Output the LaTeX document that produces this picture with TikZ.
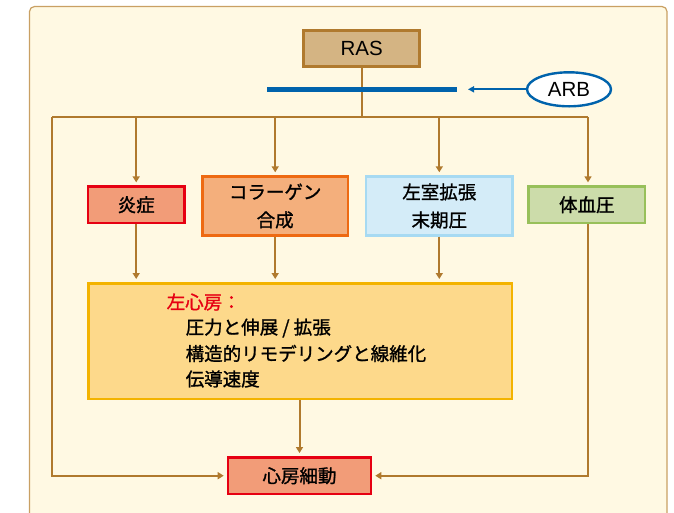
\documentclass[tikz,border=0pt]{standalone}
\usepackage{fontspec}
\setmainfont{Liberation Sans}
\newfontfamily\jp[FakeBold=1.2]{Noto Sans CJK JP}
\usetikzlibrary{arrows.meta,shapes.geometric}
\definecolor{bgfill}{HTML}{FFF9E3}
\definecolor{bgline}{HTML}{C9A063}
\definecolor{conn}{HTML}{B07A2E}
\definecolor{rasfill}{HTML}{D4B483}
\definecolor{redline}{HTML}{E60012}
\definecolor{salmon}{HTML}{F29C78}
\definecolor{orfill}{HTML}{F4AF7C}
\definecolor{orline}{HTML}{EE6A12}
\definecolor{blfill}{HTML}{D4ECF8}
\definecolor{blline}{HTML}{A7DAF2}
\definecolor{grfill}{HTML}{CCDCAA}
\definecolor{grline}{HTML}{98C05A}
\definecolor{yefill}{HTML}{FDD98B}
\definecolor{yeline}{HTML}{F3B300}
\definecolor{arbblue}{HTML}{0063AC}
\tikzset{
  box/.style={draw, line width=2.5pt, inner sep=0pt, align=center,
    font=\jp\fontsize{18.5}{28}\selectfont, text=black},
  cline/.style={draw=conn, line width=2pt},
  carrow/.style={cline, -{Triangle[length=6pt,width=7pt]}, shorten >=3pt},
  latext/.style={anchor=west, inner sep=0pt, font=\jp\fontsize{18.5}{28}\selectfont},
}
\begin{document}
\begin{tikzpicture}[x=1pt,y=-1pt]
\useasboundingbox (0,0) rectangle (674,512);
\begin{scope}
\clip (0,0) rectangle (674,512);
\draw[fill=bgfill, draw=bgline, line width=1.2pt, rounded corners=5pt] (29.5,6.5) rectangle (667,530);
\end{scope}

% nodes
\node[box, draw=conn, fill=rasfill, minimum width=116pt, minimum height=36pt,
  font=\fontsize{20.5}{24}\selectfont] (ras) at (361.6,48.3) {RAS};
\node[ellipse, draw=arbblue, line width=2.4pt, fill=white, minimum width=84pt, minimum height=34pt,
  inner sep=0pt, font=\fontsize{20.5}{24}\selectfont] (arb) at (569,89.3) {ARB};

\node[box, draw=redline, fill=salmon, minimum width=96.5pt, minimum height=36.2pt] (inf) at (136.2,204.7) {炎症};
\node[box, draw=orline, fill=orfill, minimum width=145.8pt, minimum height=58.9pt] (col) at (275.2,206) {コラーゲン\\合成};
\node[box, draw=blline, fill=blfill, minimum width=146.8pt, minimum height=58.9pt] (lv) at (439.3,206) {左室拡張\\末期圧};
\node[box, draw=grline, fill=grfill, minimum width=116.5pt, minimum height=36.2pt] (bp) at (586.8,204.7) {体血圧};
\node[box, draw=yeline, fill=yefill, minimum width=423.5pt, minimum height=115.5pt] (la) at (300,341) {};
\node[box, draw=redline, fill=salmon, minimum width=143.1pt, minimum height=36.8pt] (af) at (299.5,475.7) {心房細動};

% text inside la
\node[latext, text=redline] (lat) at (166.5,302) {左心房：};
\node[latext] (la1) at (185.5,328) {圧力と伸展 / 拡張};
\node[latext] (la2) at (185.5,353.5) {構造的リモデリングと線維化};
\node[latext] (la3) at (185.5,379) {伝導速度};

% coordinates
\coordinate (hub) at (361.6,117.3);
\coordinate (tl) at (52,117.3);
\coordinate (tr) at (588,117.3);
\coordinate (barL) at (267,89.3);
\coordinate (barR) at (457,89.3);
\coordinate (arbtip) at (468,89.3);

% connectors
\draw[cline] (ras.south) -- (hub);
\draw[cline] (tl) -- (tr);
\draw[arbblue, line width=5pt] (barL) -- (barR);
\draw[arbblue, line width=2pt, -{Triangle[length=6pt,width=6pt]}] (arb.west) -- (arbtip);

\draw[carrow] (tl) |- (af.west);
\draw[carrow] (inf.north |- tl) -- (inf.north);
\draw[carrow] (col.north |- tl) -- (col.north);
\draw[carrow] (lv.north |- tl) -- (lv.north);
\draw[carrow] (tr) -- (tr |- bp.north);

\draw[carrow] (inf.south) -- (inf.south |- la.north);
\draw[carrow] (col.south) -- (col.south |- la.north);
\draw[carrow] (lv.south) -- (lv.south |- la.north);
\draw[carrow] (tr |- bp.south) |- (af.east);
\draw[carrow] (la.south -| af.north) -- (af.north);
\end{tikzpicture}
\end{document}
